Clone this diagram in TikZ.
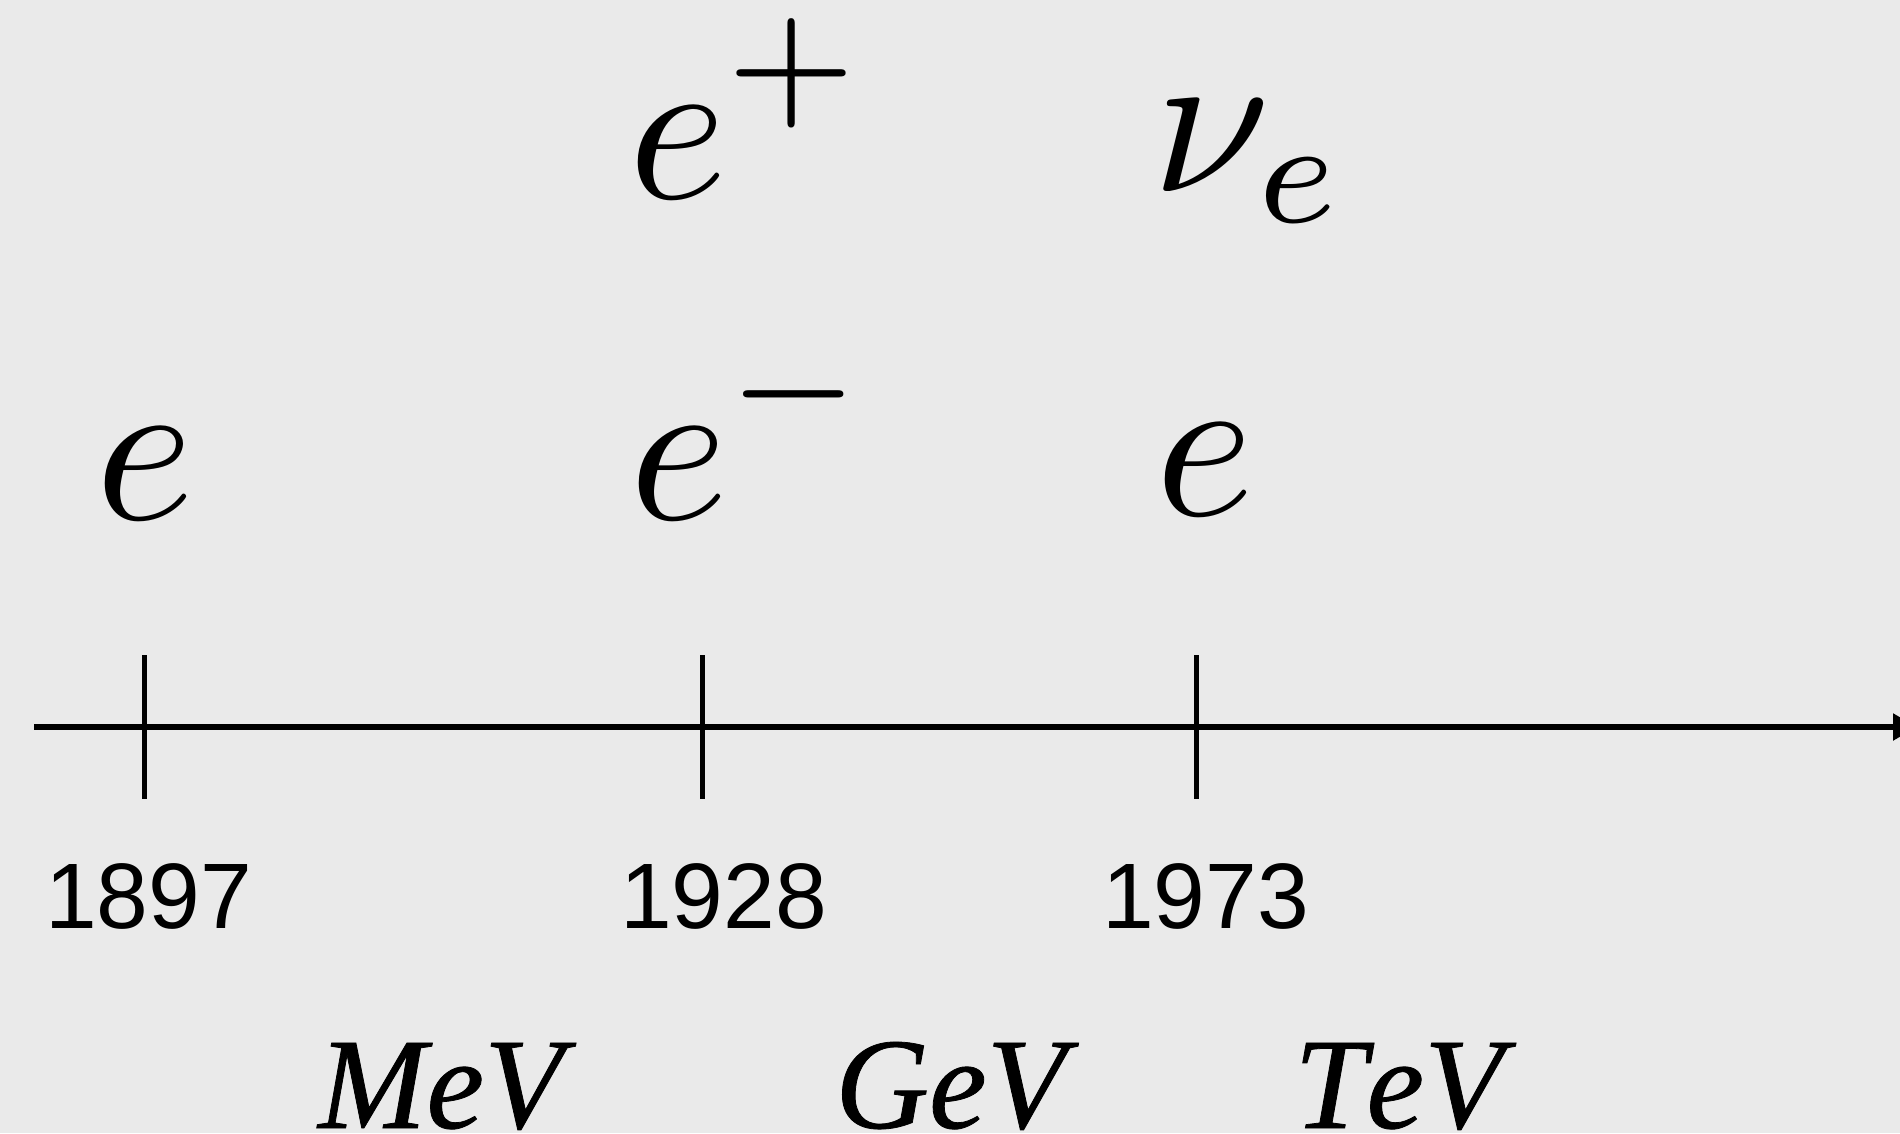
\documentclass[tikz,border=0pt]{standalone}
\usepackage{fontspec}
\newfontfamily\yearfont{Liberation Sans}
\newfontfamily\unitfont{Liberation Serif}[Kerning=Off,FakeBold=0.6]
\definecolor{bg}{RGB}{234,234,234}
\usetikzlibrary{arrows.meta}
\begin{document}
\begin{tikzpicture}[x=1pt,y=-1pt,
  particle/.style={anchor=base west, inner sep=0pt, scale=21.2, transform shape, font=\fontsize{10}{12}\selectfont},
  year/.style={anchor=base west, inner sep=0pt, font=\yearfont\fontsize{93}{110}\selectfont},
  unit/.style={anchor=base west, inner sep=0pt, font=\unitfont\itshape\fontsize{130}{150}\selectfont},
  axisline/.style={line width=5.2pt, -{Triangle[length=24pt,width=26pt]}},
  tickline/.style={line width=5pt}]
\fill[bg] (0,0) rectangle (1900,1133);
\useasboundingbox (0,0) rectangle (1900,1133);
\clip (0,0) rectangle (1900,1133);
% axis
\coordinate (axstart) at (34,727);
\coordinate (axend) at (1917,727);
\draw[axisline] (axstart) -- (axend);
% ticks
\coordinate (t1a) at (144.5,655); \coordinate (t1b) at (144.5,799);
\coordinate (t2a) at (702,655); \coordinate (t2b) at (702,799);
\coordinate (t3a) at (1196,655); \coordinate (t3b) at (1196,799);
\draw[tickline] (t1a) -- (t1b);
\draw[tickline] (t2a) -- (t2b);
\draw[tickline] (t3a) -- (t3b);
% years
\node[year] (y1) at (45,928) {1897};
\node[year] (y2) at (620,928) {1928};
\node[year] (y3) at (1102,928) {1973};
% particles
\node[particle] (pe1) at (91,519) {$e$};
\node[particle] (pem) at (625,519) {$\displaystyle e^{-}$};
\node[particle] (pe3) at (1151,515) {$e$};
\node[particle] (pep) at (624,198) {$\displaystyle e^{+}$};
\node[particle] (pnu) at (1148,191) {$\displaystyle \nu_{e}$};
% units
\node[unit] (mev) at (318,1128) {MeV};
\node[unit] (gev) at (835,1128) {GeV};
\node[unit] (tev) at (1294,1128) {TeV};
\end{tikzpicture}
\end{document}
